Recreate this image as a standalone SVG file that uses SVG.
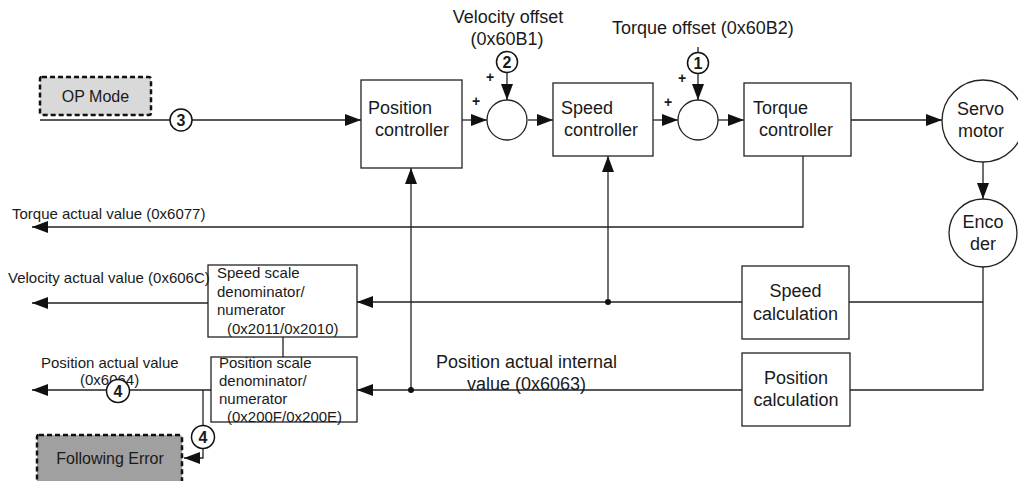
<svg xmlns="http://www.w3.org/2000/svg" width="1018" height="481" viewBox="0 0 1018 481">
<defs>
<marker id="ah" markerWidth="16" markerHeight="12" refX="16" refY="6" orient="auto" markerUnits="userSpaceOnUse">
<path d="M0,0 L16,6 L0,12 z" fill="#111"/>
</marker>
<style>
text{font-family:"Liberation Sans",Arial,sans-serif;fill:#1a1a1a}
.box{fill:#fff;stroke:#222;stroke-width:1.3}
.sum{fill:#fff;stroke:#222;stroke-width:1.3}
.lbl{fill:#fff;stroke:#111;stroke-width:1.5}
.num{font-size:16px;font-weight:bold;text-anchor:middle}
.big{font-size:18px}
.sm{font-size:15px}
.mid{text-anchor:middle}
.plus{font-size:14px;font-weight:bold;text-anchor:middle}
.dash{stroke:#111;stroke-width:2.5;stroke-dasharray:5 3}
.ln{fill:none;stroke:#222;stroke-width:1.3}
.arr{fill:none;stroke:#222;stroke-width:1.3;marker-end:url(#ah)}
</style>
</defs>
<rect width="1018" height="481" fill="#fff"/>

<g id="connectors">
<path class="arr" d="M40,120 H361"/>
<path class="arr" d="M462,120 H487"/>
<path class="arr" d="M528,120 H553"/>
<path class="arr" d="M653,120 H678"/>
<path class="arr" d="M718,120 H744"/>
<path class="arr" d="M851,120 H942"/>
<path class="arr" d="M507,72 V100"/>
<path class="ln" d="M698,47 V53"/>
<path class="arr" d="M698,73 V100"/>
<path class="arr" d="M983,162 V199"/>
<path class="arr" d="M803,156 V227 H32"/>
<path class="ln" d="M983,266 V390 H850"/>
<path class="ln" d="M983,302 H849"/>
<path class="arr" d="M742,302 H357"/>
<path class="arr" d="M608,302 V156"/>
<path class="arr" d="M742,390 H357"/>
<path class="arr" d="M411,390 V168"/>
<path class="arr" d="M208,303 H32"/>
<path class="ln" d="M283,337 V357"/>
<path class="arr" d="M211,390 H32"/>
<path class="arr" d="M203,390 V458 H184"/>
<circle cx="608" cy="302" r="3" fill="#111"/>
<circle cx="411" cy="390" r="3" fill="#111"/>
</g>

<g id="op-mode">
<rect x="40" y="77" width="111" height="38" rx="2" fill="#d9d9d9" class="dash"/>
<text x="95.5" y="102" font-size="16" class="mid">OP Mode</text>
</g>

<g id="mark3">
<circle cx="181" cy="120" r="11" class="lbl"/>
<text x="181" y="126" class="num">3</text>
</g>

<g id="position-controller">
<rect x="361" y="80" width="101" height="88" class="box"/>
<text x="368" y="114" class="big">Position</text>
<text x="375" y="136" class="big">controller</text>
</g>

<g id="sum-velocity">
<circle cx="507" cy="120" r="20" class="sum"/>
<text x="476" y="106" class="plus">+</text>
<text x="490" y="82" class="plus">+</text>
</g>

<g id="velocity-offset">
<text x="508" y="23" class="big mid">Velocity offset</text>
<text x="507" y="45" class="big mid">(0x60B1)</text>
<circle cx="507" cy="62" r="10.5" class="lbl"/>
<text x="507" y="68" class="num">2</text>
</g>

<g id="speed-controller">
<rect x="553" y="83" width="100" height="73" class="box"/>
<text x="561" y="114" class="big">Speed</text>
<text x="564" y="136" class="big">controller</text>
</g>

<g id="sum-torque">
<circle cx="698" cy="120" r="20" class="sum"/>
<text x="668" y="107" class="plus">+</text>
<text x="682" y="83" class="plus">+</text>
</g>

<g id="torque-offset">
<text x="612" y="34" class="big">Torque offset (0x60B2)</text>
<circle cx="698" cy="63" r="10.5" class="lbl"/>
<text x="698" y="69" class="num">1</text>
</g>

<g id="torque-controller">
<rect x="744" y="83" width="107" height="73" class="box"/>
<text x="753" y="114" class="big">Torque</text>
<text x="759" y="136" class="big">controller</text>
</g>

<g id="servo-motor">
<circle cx="983" cy="121" r="41" class="box"/>
<text x="957" y="115" class="big">Servo</text>
<text x="958" y="137" class="big">motor</text>
</g>

<g id="encoder">
<circle cx="983" cy="233" r="34" class="box"/>
<text x="983" y="228" class="big mid">Enco</text>
<text x="983" y="250" class="big mid">der</text>
</g>

<g id="speed-calculation">
<rect x="742" y="266" width="107" height="73" class="box"/>
<text x="795.5" y="297" class="big mid">Speed</text>
<text x="795.5" y="320" class="big mid">calculation</text>
</g>

<g id="position-calculation">
<rect x="742" y="353" width="108" height="73" class="box"/>
<text x="796" y="384" class="big mid">Position</text>
<text x="796" y="406" class="big mid">calculation</text>
</g>

<g id="speed-scale">
<rect x="208" y="265" width="149" height="72" class="box"/>
<text x="217" y="278" class="sm">Speed scale</text>
<text x="217" y="297" class="sm">denominator/</text>
<text x="217" y="315" class="sm">numerator</text>
<text x="227" y="334" class="sm">(0x2011/0x2010)</text>
</g>

<g id="position-scale">
<rect x="211" y="357" width="146" height="65" class="box"/>
<text x="219" y="368" class="sm">Position scale</text>
<text x="219" y="386" class="sm">denominator/</text>
<text x="219" y="404" class="sm">numerator</text>
<text x="227" y="422" class="sm">(0x200F/0x200E)</text>
</g>

<g id="labels">
<text x="12" y="219" class="sm">Torque actual value (0x6077)</text>
<text x="8" y="283" class="sm">Velocity actual value (0x606C)</text>
<text x="41" y="368" class="sm">Position actual value</text>
<text x="80" y="385" class="sm">(0x6064)</text>
<text x="436" y="368" class="big">Position actual internal</text>
<text x="467" y="390" class="big">value (0x6063)</text>
</g>

<g id="mark4a">
<circle cx="118" cy="391" r="11.5" class="lbl"/>
<text x="118" y="397" class="num">4</text>
</g>

<g id="mark4b">
<circle cx="203" cy="437" r="11.5" class="lbl"/>
<text x="203" y="443" class="num">4</text>
</g>

<g id="following-error">
<rect x="37" y="435" width="145" height="52" rx="2" fill="#a0a0a0" class="dash"/>
<text x="110" y="464" font-size="16" class="mid">Following Error</text>
</g>
</svg>
